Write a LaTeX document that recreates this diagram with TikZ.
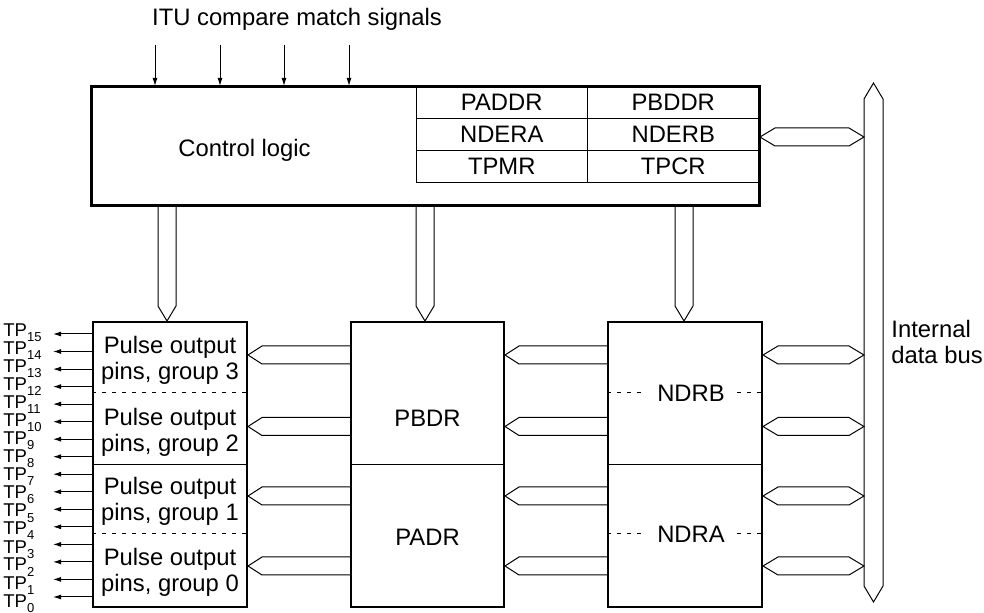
\documentclass[tikz,border=0pt]{standalone}
\usepackage{fontspec}
\setmainfont{Liberation Sans}
\usetikzlibrary{arrows.meta,calc,positioning}

\newcommand{\diagfont}{\fontsize{11.9}{12.9}\selectfont}
\newcommand{\tpfont}{\fontsize{9.25}{10}\selectfont}
\newcommand{\tp}[1]{TP\raisebox{-2.5pt}{\fontsize{6.5}{7}\selectfont #1}}

\newcommand{\hollowleft}[2]{\draw[busline] let \p1=(#1), \p2=(#2) in
 (\x1,\y1+4.5pt) -- (\x2+7pt,\y1+4.5pt) -- (\x2,\y1) -- (\x2+7pt,\y1-4.5pt) -- (\x1,\y1-4.5pt);}
\newcommand{\hollowboth}[2]{\draw[busline] let \p1=(#1), \p2=(#2) in
 (\x1,\y1) -- (\x1+7.5pt,\y1+4.5pt) -- (\x2-7.5pt,\y1+4.5pt) -- (\x2,\y1)
 -- (\x2-7.5pt,\y1-4.5pt) -- (\x1+7.5pt,\y1-4.5pt) -- cycle;}
\newcommand{\hollowdown}[2]{\draw[busline] let \p1=(#1), \p2=(#2) in
 (\x1-4.5pt,\y1) -- (\x1-4.5pt,\y2+7.5pt) -- (\x2,\y2) -- (\x1+4.5pt,\y2+7.5pt) -- (\x1+4.5pt,\y1);}
\newcommand{\hollowbus}[2]{\draw[busline] let \p1=(#1), \p2=(#2) in
 (\x1,\y1) -- (\x1+4.75pt,\y1-8pt) -- (\x1+4.75pt,\y2+8pt) -- (\x2,\y2)
 -- (\x1-4.75pt,\y2+8pt) -- (\x1-4.75pt,\y1-8pt) -- cycle;}

\begin{document}
\begin{tikzpicture}[x=0.5pt,y=-0.5pt,
every node/.style={font=\diagfont},
box/.style={draw,line width=1pt,inner sep=0pt},
cell/.style={draw,line width=0.5pt,minimum width=85.75pt,minimum height=15.83pt,inner sep=0pt},
busline/.style={line width=0.5pt},
dashline/.style={line width=0.5pt,dash pattern=on 2pt off 3pt},
sig/.style={-{Latex[length=4pt,width=2.5pt]},line width=0.5pt},
tpname/.style={anchor=base west,inner sep=0pt,font=\tpfont}]
\useasboundingbox (0,0) rectangle (984,613);

\node (itu) at (297,19) {ITU compare match signals};
\node[box,minimum width=333.5pt,minimum height=59pt] (ctrl) at (425.5,146) {};
\node (ctrltxt) at (244.5,150) {Control logic};
\node[cell] (paddr) at (501.75,102.8) {PADDR};
\node[cell] (pbddr) at (673.25,102.8) {PBDDR};
\node[cell] (ndera) at (501.75,134.5) {NDERA};
\node[cell] (nderb) at (673.25,134.5) {NDERB};
\node[cell] (tpmr) at (501.75,166.2) {TPMR};
\node[cell] (tpcr) at (673.25,166.2) {TPCR};
\draw[line width=1pt] (ctrl.north west) rectangle (ctrl.south east);

\coordinate (s1) at (155,45);
\coordinate (s2) at (220,45);
\coordinate (s3) at (284,45);
\coordinate (s4) at (349,45);
\draw[sig] (s1) -- (s1 |- ctrl.north);
\draw[sig] (s2) -- (s2 |- ctrl.north);
\draw[sig] (s3) -- (s3 |- ctrl.north);
\draw[sig] (s4) -- (s4 |- ctrl.north);

\node[box,minimum width=77pt,minimum height=142.5pt] (pins) at (170,464.5) {};
\node[box,minimum width=76.5pt,minimum height=142.5pt] (pbdr) at (427.5,464.5) {};
\node[box,minimum width=77pt,minimum height=142.5pt] (ndr) at (685,464.5) {};

\coordinate (ymid) at (0,465);
\coordinate (ydb) at (0,393);
\coordinate (yda) at (0,534);
\draw[busline] (pins.west |- ymid) -- (pins.east |- ymid);
\draw[busline] (pbdr.west |- ymid) -- (pbdr.east |- ymid);
\draw[busline] (ndr.west |- ymid) -- (ndr.east |- ymid);
\draw[dashline] (pins.west |- ydb) -- (pins.east |- ydb);
\draw[dashline] (pins.west |- yda) -- (pins.east |- yda);
\draw[dashline] (ndr.west |- ydb) -- (ndr.east |- ydb);
\draw[dashline] (ndr.west |- yda) -- (ndr.east |- yda);

\node[align=center] (grp3) at (170,360) {Pulse output\\pins, group 3};
\node[align=center] (grp2) at (170,432) {Pulse output\\pins, group 2};
\node[align=center] (grp1) at (170,501) {Pulse output\\pins, group 1};
\node[align=center] (grp0) at (170,572) {Pulse output\\pins, group 0};
\node (pbdrtxt) at (427.5,418) {PBDR};
\node (padrtxt) at (427.5,537) {PADR};
\node[fill=white,inner xsep=6pt,inner ysep=1pt] (ndrb) at (691,393) {NDRB};
\node[fill=white,inner xsep=6pt,inner ysep=1pt] (ndra) at (691,534) {NDRA};

\coordinate (bustop) at (873.5,83);
\coordinate (busbot) at (873.5,602);
\coordinate (busedge) at (864,300);
\hollowbus{bustop}{busbot}
\node[anchor=west,align=left,inner sep=0pt] (busname) at (891,342) {Internal\\data bus};

\coordinate (ybus) at (0,137);
\coordinate (y3) at (0,355);
\coordinate (y2) at (0,426.5);
\coordinate (y1) at (0,496);
\coordinate (y0) at (0,566);
\hollowboth{ctrl.east |- ybus}{busedge |- ybus}
\hollowboth{ndr.east |- y3}{busedge |- y3}
\hollowboth{ndr.east |- y2}{busedge |- y2}
\hollowboth{ndr.east |- y1}{busedge |- y1}
\hollowboth{ndr.east |- y0}{busedge |- y0}
\hollowleft{ndr.west |- y3}{pbdr.east |- y3}
\hollowleft{ndr.west |- y2}{pbdr.east |- y2}
\hollowleft{ndr.west |- y1}{pbdr.east |- y1}
\hollowleft{ndr.west |- y0}{pbdr.east |- y0}
\hollowleft{pbdr.west |- y3}{pins.east |- y3}
\hollowleft{pbdr.west |- y2}{pins.east |- y2}
\hollowleft{pbdr.west |- y1}{pins.east |- y1}
\hollowleft{pbdr.west |- y0}{pins.east |- y0}

\coordinate (d1) at (167,0);
\coordinate (d2) at (425,0);
\coordinate (d3) at (684,0);
\hollowdown{ctrl.south -| d1}{pins.north -| d1}
\hollowdown{ctrl.south -| d2}{pbdr.north -| d2}
\hollowdown{ctrl.south -| d3}{ndr.north -| d3}

\coordinate (t15) at (53,334);
\coordinate (t14) at (53,351.5);
\coordinate (t13) at (53,369.1);
\coordinate (t12) at (53,386.6);
\coordinate (t11) at (53,404.1);
\coordinate (t10) at (53,421.7);
\coordinate (t9) at (53,439.2);
\coordinate (t8) at (53,456.7);
\coordinate (t7) at (53,474.2);
\coordinate (t6) at (53,491.8);
\coordinate (t5) at (53,509.3);
\coordinate (t4) at (53,526.8);
\coordinate (t3) at (53,544.4);
\coordinate (t2) at (53,561.9);
\coordinate (t1) at (53,579.4);
\coordinate (t0) at (53,597);
\draw[sig] (pins.west |- t15) -- (t15);
\draw[sig] (pins.west |- t14) -- (t14);
\draw[sig] (pins.west |- t13) -- (t13);
\draw[sig] (pins.west |- t12) -- (t12);
\draw[sig] (pins.west |- t11) -- (t11);
\draw[sig] (pins.west |- t10) -- (t10);
\draw[sig] (pins.west |- t9) -- (t9);
\draw[sig] (pins.west |- t8) -- (t8);
\draw[sig] (pins.west |- t7) -- (t7);
\draw[sig] (pins.west |- t6) -- (t6);
\draw[sig] (pins.west |- t5) -- (t5);
\draw[sig] (pins.west |- t4) -- (t4);
\draw[sig] (pins.west |- t3) -- (t3);
\draw[sig] (pins.west |- t2) -- (t2);
\draw[sig] (pins.west |- t1) -- (t1);
\draw[sig] (pins.west |- t0) -- (t0);
\node[tpname] (tp15) at (3,337) {\tp{15}};
\node[tpname] (tp14) at (3,355) {\tp{14}};
\node[tpname] (tp13) at (3,373) {\tp{13}};
\node[tpname] (tp12) at (3,391) {\tp{12}};
\node[tpname] (tp11) at (3,409) {\tp{11}};
\node[tpname] (tp10) at (3,427) {\tp{10}};
\node[tpname] (tp9) at (3,445) {\tp{9}};
\node[tpname] (tp8) at (3,463) {\tp{8}};
\node[tpname] (tp7) at (3,481) {\tp{7}};
\node[tpname] (tp6) at (3,499) {\tp{6}};
\node[tpname] (tp5) at (3,517) {\tp{5}};
\node[tpname] (tp4) at (3,535) {\tp{4}};
\node[tpname] (tp3) at (3,553) {\tp{3}};
\node[tpname] (tp2) at (3,571) {\tp{2}};
\node[tpname] (tp1) at (3,589) {\tp{1}};
\node[tpname] (tp0) at (3,607) {\tp{0}};
\end{tikzpicture}
\end{document}
